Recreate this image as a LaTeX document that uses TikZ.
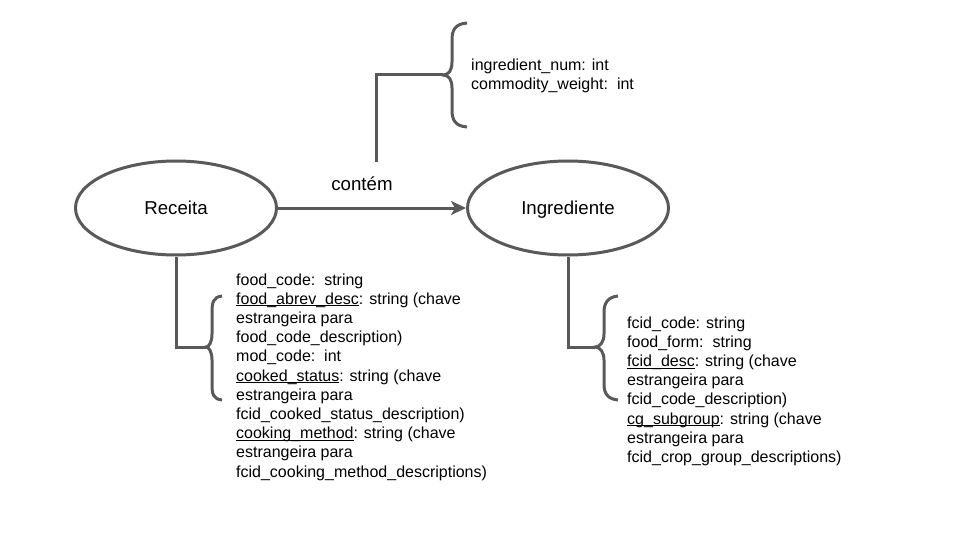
\documentclass[tikz,border=0pt]{standalone}
\usepackage{fontspec}
\setmainfont{Liberation Sans}
\usetikzlibrary{arrows.meta,shapes.geometric}
\definecolor{linegray}{HTML}{595959}
\newcommand\ulx[1]{\setbox0=\hbox{#1}\rlap{\rule[-2pt]{\wd0}{0.9pt}}\box0}
\tikzset{
  conn/.style={draw=linegray, line width=3pt},
  entity/.style={ellipse, draw=linegray, line width=3pt, minimum width=201pt, minimum height=94pt, inner sep=0pt, text height=13.6pt, text depth=0pt, font=\fontsize{18.67}{22}\selectfont},
  attrs/.style={anchor=north west, inner sep=0pt, align=left, font=\fontsize{16}{19.2}\selectfont},
  lbl/.style={font=\fontsize{18.67}{22}\selectfont, inner sep=0pt}
}
\begin{document}
\begin{tikzpicture}[x=1pt,y=-1pt]
\useasboundingbox (0,0) rectangle (960,540);
\node[entity] (rec) at (176,208) {Receita};
\node[entity] (ing) at (568,208) {Ingrediente};
\draw[conn, -{Stealth[length=15pt,width=14pt,inset=4pt]}] (rec) -- (ing);
\node[lbl] (cont) at (362,184) {contém};

% top brace and relationship attributes
\coordinate (ttip) at (443,75);
\coordinate (relend) at (376,162);
\draw[conn] (467,23) .. controls (455,24) and (452,30) .. (452,40) -- (452,62) .. controls (452,70) and (449,75) .. (ttip) .. controls (449,75) and (452,80) .. (452,88) -- (452,110) .. controls (452,120) and (455,126) .. (467,127);
\draw[conn] (relend) |- (ttip);
\node[attrs] (tattr) at (471,58.4) {ingredient\_num: int\\commodity\_weight:\ \ int};

% left brace
\coordinate (ltip) at (206,347);
\draw[conn] (222,296) .. controls (213,297) and (212,303) .. (212,312) -- (212,334) .. controls (212,342) and (209,347) .. (ltip) .. controls (209,347) and (212,352) .. (212,360) -- (212,384) .. controls (212,394) and (213,399) .. (222,400);
\draw[conn] (rec.south) |- (ltip);
\node[attrs] (lattr) at (236,273.4) {food\_code:\ \ string\\
\ulx{food\_abrev\_desc}: string (chave\\
estrangeira para\\
food\_code\_description)\\
mod\_code:\ \ int\\
\ulx{cooked\_status}: string (chave\\
estrangeira para\\
fcid\_cooked\_status\_description)\\
\ulx{cooking\_method}: string (chave\\
estrangeira para\\
fcid\_cooking\_method\_descriptions)};

% right brace
\coordinate (rtip) at (595,347);
\draw[conn] (618,296) .. controls (608,297) and (604,303) .. (604,312) -- (604,334) .. controls (604,342) and (600,347) .. (rtip) .. controls (600,347) and (604,352) .. (604,360) -- (604,384) .. controls (604,394) and (608,399) .. (618,400);
\draw[conn] (ing.south) |- (rtip);
\node[attrs] (rattr) at (627,316.4) {fcid\_code: string\\
food\_form:\ \ string\\
\ulx{fcid\_desc}: string (chave\\
estrangeira para\\
fcid\_code\_description)\\
\ulx{cg\_subgroup}: string (chave\\
estrangeira para\\
fcid\_crop\_group\_descriptions)};
\end{tikzpicture}
\end{document}
